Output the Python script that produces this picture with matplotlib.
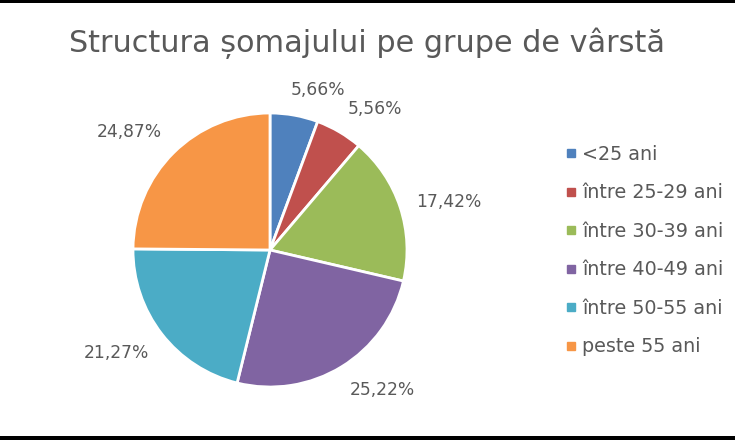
import numpy as np
import matplotlib

matplotlib.use("Agg")
import matplotlib.pyplot as plt
from matplotlib.lines import Line2D
from matplotlib.patches import Rectangle

# chart data
categories = ["<25 ani", "între 25-29 ani", "între 30-39 ani",
              "între 40-49 ani", "între 50-55 ani", "peste 55 ani"]
shares = [5.66, 5.56, 17.42, 25.22, 21.27, 24.87]
colors = ["#4F81BD", "#C0504D", "#9BBB59", "#8064A2", "#4BACC6", "#F79646"]
title = "Structura șomajului pe grupe de vârstă"

text_color = "#595959"
plt.rcParams["font.family"] = ["DejaVu Sans"]

W, H = 735, 440
fig = plt.figure(figsize=(W / 100, H / 100), dpi=100)

# black bands at top and bottom
fig.add_artist(Rectangle((0, 1 - 3 / H), 1, 3 / H, transform=fig.transFigure,
                         color="black", lw=0))
fig.add_artist(Rectangle((0, 0), 1, 4 / H, transform=fig.transFigure,
                         color="black", lw=0))

fig.text(367 / W, 1 - 43 / H, title, ha="center", va="center",
         fontsize=21.8, color=text_color)

# pie axes: centre (270, 250), radius 137 px
cx, cy, r = 270, 250, 137
ax = fig.add_axes([(cx - r) / W, (H - cy - r) / H, 2 * r / W, 2 * r / H])
wedges, _ = ax.pie(shares, colors=colors, startangle=90, counterclock=False,
                   radius=1, wedgeprops=dict(edgecolor="white", linewidth=2))
ax.set_xlim(-1, 1)
ax.set_ylim(-1, 1)
ax.set_aspect("equal")
ax.axis("off")

# outside-end data labels
for w, v in zip(wedges, shares):
    ang = np.deg2rad((w.theta1 + w.theta2) / 2)
    c, s = np.cos(ang), np.sin(ang)
    ha = "left" if c > 0.1 else ("right" if c < -0.1 else "center")
    va = "bottom" if s > 0.35 else ("top" if s < -0.35 else "center")
    d = 1.12
    ax.text(d * c - 0.05 * (abs(s) > 0.95), d * s, f"{v:.2f}%".replace(".", ","),
            ha=ha, va=va, fontsize=12.3, color=text_color, clip_on=False)

handles = [Line2D([], [], marker="s", linestyle="none", markersize=6,
                  markerfacecolor=col, markeredgecolor=col) for col in colors]
fig.legend(handles, categories, loc="upper left",
           bbox_to_anchor=(557 / W, 1 - 137 / H), frameon=False,
           fontsize=13.8, labelcolor=text_color, handlelength=0.7,
           handletextpad=0.2, labelspacing=1.02, borderaxespad=0)

fig.savefig("out.png", dpi=100)
